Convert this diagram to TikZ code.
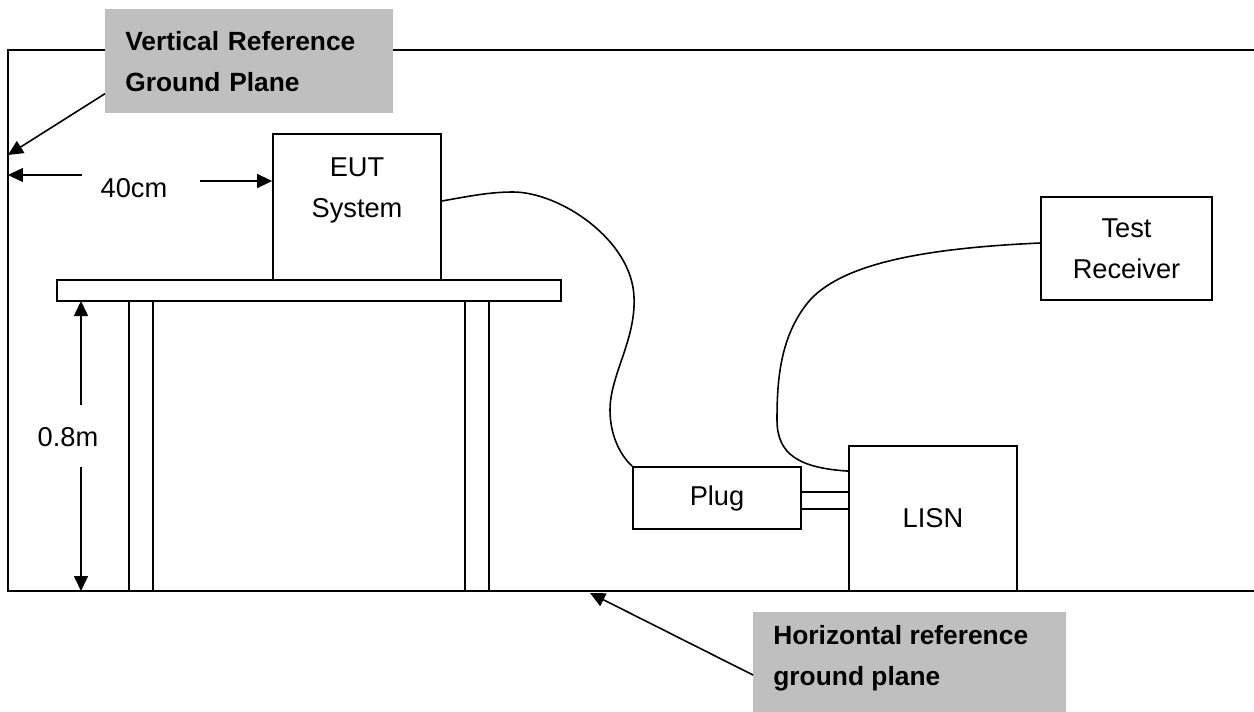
\documentclass[tikz,border=0pt]{standalone}
\usepackage{fontspec}
\setmainfont{Liberation Sans}
\usetikzlibrary{arrows.meta}
\definecolor{notegray}{RGB}{191,191,191}

\tikzset{
	box/.style={draw, line width=1.05pt, minimum width=3.36cm, inner sep=0pt, align=center, font=\fontsize{15.5}{23.3}\selectfont},
	txt/.style={inner sep=0pt, align=center, font=\fontsize{15.5}{23.3}\selectfont},
	note/.style={fill=notegray, anchor=north west, inner xsep=0.4cm, inner ysep=0pt, align=left, font=\fontsize{15}{23.3}\selectfont\bfseries},
	notetxt/.style={anchor=west, inner sep=0pt, align=left, font=\fontsize{15}{23.3}\selectfont\bfseries},
	wire/.style={line width=0.9pt},
	dim/.style={line width=0.9pt, -{Triangle[length=0.3cm, width=0.28cm]}}
}

\begin{document}
\begin{tikzpicture}[x=0.02cm, y=-0.02cm]
	\useasboundingbox (0,0) rectangle (1254,711);
	\draw [ line width=1.35pt ] (1254,50)--(8,50)--(8,591)--(1254,591);
	\coordinate (wall) at (8,0);
	\coordinate (tabletop) at (0,301);
	\coordinate (floor) at (0,591);

	\draw [ line width=1.05pt ] (57,280) rectangle (561,301);
	\draw [ line width=1.05pt ] (129,301) rectangle (153,591);
	\draw [ line width=1.05pt ] (465,301) rectangle (489,591);

	\node [ note, minimum width=5.76cm, minimum height=2.08cm, text width=4.96cm ] (vplane) at (105,9) {Vertical Reference\\Ground Plane};
	\node [ note, minimum width=6.26cm, minimum height=2.08cm ] (hplane) at (753,612) {};
	\node [ notetxt ] (hlabel) at (773,658) {Horizontal reference\\ground plane};

	\node [ box, minimum height=2.92cm ] (eut) at (357,207) {};
	\node [ txt ] (eutlabel) at (357,190) {EUT\\System};
	\node [ box, minimum height=1.24cm ] (plug) at (717,498) {Plug};
	\node [ box, minimum height=2.9cm ] (lisn) at (933,518.5) {LISN};
	\node [ box, minimum width=3.42cm, minimum height=2.06cm ] (receiver) at (1126.5,248.5) {Test\\Receiver};

	\draw [ wire ] ([yshift=0.12cm]eut.east) .. controls (470,196) and (490,192) .. (513,192) .. controls (560,192) and (632,240) .. (634,297) .. controls (636,340) and (610,375) .. (610,410) .. controls (610,435) and (620,455) .. (plug.north west);
	\draw [ wire ] ([yshift=0.11cm]receiver.west) .. controls (930,248) and (845,262) .. (810,300) .. controls (780,335) and (777,380) .. (777,420) .. controls (777,455) and (800,468) .. ([yshift=-0.52cm]lisn.north west);

	\coordinate (pa) at ([yshift=0.12cm]plug.east);
	\coordinate (pb) at ([yshift=-0.22cm]plug.east);
	\draw [ wire ] (pa) -- (pa -| lisn.west);
	\draw [ wire ] (pb) -- (pb -| lisn.west);

	\coordinate (vtip) at (8,155);
	\coordinate (htip) at (590,593);
	\draw [ dim ] ([yshift=0.4cm]vplane.south west) -- (vtip);
	\draw [ dim ] ([yshift=-1.26cm]hplane.north west) -- (htip);

	\node [ txt ] (dist) at (134,188) {40cm};
	\coordinate (la) at (82,175);
	\coordinate (ra) at (200,181);
	\draw [ dim ] (la) -- (la -| wall);
	\draw [ dim ] (ra) -- (ra -| eut.west);

	\node [ txt ] (height) at (68,437) {0.8m};
	\coordinate (ha) at (81,405);
	\coordinate (hb) at (81,467);
	\draw [ dim ] (ha) -- (ha |- tabletop);
	\draw [ dim ] (hb) -- (hb |- floor);
\end{tikzpicture}
\end{document}
